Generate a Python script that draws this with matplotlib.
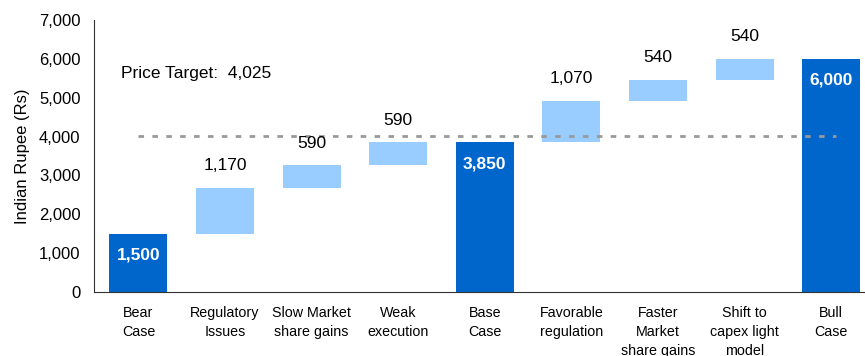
import matplotlib
matplotlib.use('Agg')
import matplotlib.pyplot as plt

plt.rcParams['font.family'] = ['Liberation Sans', 'DejaVu Sans']

categories = ['Bear\nCase', 'Regulatory\nIssues', 'Slow Market\nshare gains', 'Weak\nexecution',
              'Base\nCase', 'Favorable\nregulation', 'Faster\nMarket\nshare gains',
              'Shift to\ncapex light\nmodel', 'Bull\nCase']
values = [1500, 1170, 590, 590, 3850, 1070, 540, 540, 6000]
is_total = [True, False, False, False, True, False, False, False, True]
price_target = 4025

dark_blue = '#0066CC'
light_blue = '#99CCFF'

fig = plt.figure(figsize=(8.65, 3.56), dpi=100)
ax = fig.add_axes([0.109, 0.18, 0.891, 0.764])

x = list(range(len(categories)))
running = 0
for i, (val, total) in enumerate(zip(values, is_total)):
    if total:
        ax.bar(i, val, width=0.67, color=dark_blue)
        running = val
        ax.annotate(f'{val:,}', (i, val), xytext=(0, -15.5), textcoords='offset points',
                    ha='center', va='center', color='white', fontweight='bold', fontsize=12.5)
    else:
        ax.bar(i, val, bottom=running, width=0.67, color=light_blue)
        running += val
        ax.annotate(f'{val:,}', (i, running), xytext=(0, 16), textcoords='offset points',
                    ha='center', va='center', color='black', fontsize=12.5)

ax.plot([0, 8.05], [price_target, price_target], linestyle=(0, (2, 3)), color='#999999', linewidth=2)
ax.text(-0.2, 5630, f'Price Target:  {price_target:,}', fontsize=12.5, ha='left', va='center')

ax.set_xlim(-0.51, 8.39)
ax.set_ylim(0, 7000)
ax.set_yticks(range(0, 7001, 1000))
ax.set_yticklabels([f'{v:,}' for v in range(0, 7001, 1000)], fontsize=12)
ax.set_xticks(x)
ax.set_xticklabels(categories, fontsize=10.3, linespacing=1.45)
ax.tick_params(axis='both', length=0)
ax.tick_params(axis='x', pad=10)
ax.tick_params(axis='y', pad=10)
ax.set_ylabel('Indian Rupee (Rs)', fontsize=12, labelpad=6)
for side in ['top', 'right']:
    ax.spines[side].set_visible(False)
ax.spines['left'].set_color('#333333')
ax.spines['bottom'].set_color('#333333')

fig.savefig('out.png', dpi=100)
